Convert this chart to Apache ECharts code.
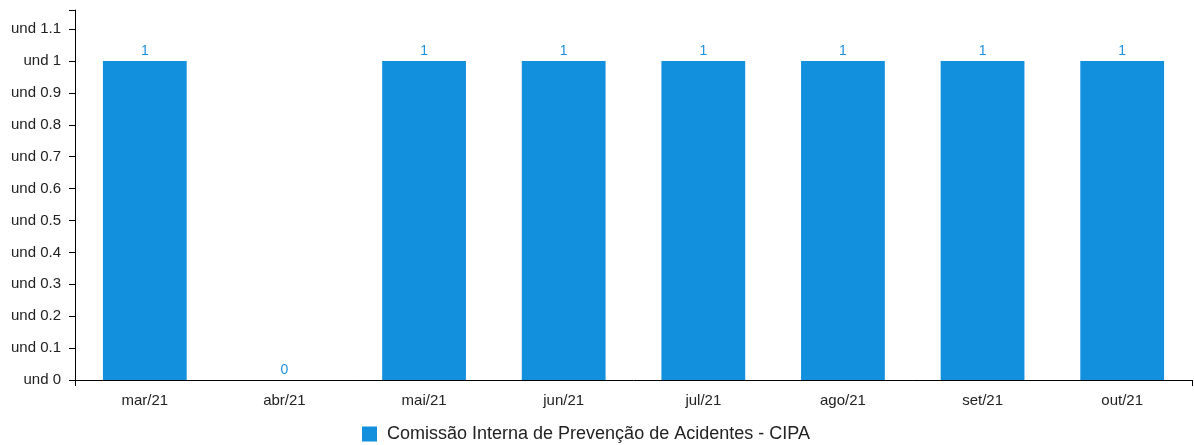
<!DOCTYPE html>
<html>
<head>
<meta charset="utf-8">
<script src="https://cdn.jsdelivr.net/npm/echarts@6/dist/echarts.min.js"></script>
<style>html,body{margin:0;padding:0;background:#fff}#c{width:1194px;height:445px}</style>
</head>
<body>
<div id="c"></div>
<script>
const categories = ['mar/21','abr/21','mai/21','jun/21','jul/21','ago/21','set/21','out/21'];
const values = [1, 0, 1, 1, 1, 1, 1, 1];
const seriesName = 'Comissão Interna de Prevenção de Acidentes - CIPA';
const unitPrefix = 'und ';

const chart = echarts.init(document.getElementById('c'), null, {renderer: 'canvas'});
const font = 'Liberation Sans, Arial, sans-serif';
chart.setOption({
  animation: false,
  grid: {left: 75, right: 2, top: 10, bottom: 65, containLabel: false},
  legend: {
    top: 420, left: 357,
    itemWidth: 15, itemHeight: 15, itemGap: 10,
    icon: 'rect',
    textStyle: {fontFamily: font, fontSize: 18, color: '#222', padding: [0, 0, 0, 5]},
    data: [seriesName]
  },
  xAxis: [{
    type: 'category', data: categories, boundaryGap: true,
    axisLine: {lineStyle: {color: '#000', width: 1}},
    axisTick: {alignWithLabel: true, length: 6, lineStyle: {color: '#000'}},
    axisLabel: {fontFamily: font, fontSize: 15, color: '#222', margin: 13}
  }, {
    type: 'value', min: 0, max: 1, interval: 1, position: 'bottom',
    axisLine: {show: false},
    axisTick: {show: true, length: 6, lineStyle: {color: '#000'}},
    axisLabel: {show: false}, splitLine: {show: false}
  }],
  yAxis: {
    type: 'value', min: 0, max: 1.16, interval: 0.1,
    axisLine: {show: true, lineStyle: {color: '#000', width: 1}},
    axisTick: {show: true, length: 6, lineStyle: {color: '#000'}},
    splitLine: {show: false},
    axisLabel: {
      fontFamily: font, fontSize: 15, color: '#222', margin: 14,
      formatter: v => v > 1.101 ? '' : unitPrefix + (Math.round(v * 10) / 10)
    }
  },
  series: [{
    name: seriesName, type: 'bar', data: values, barWidth: '60%',
    xAxisIndex: 0,
    itemStyle: {color: '#1290de'},
    label: {show: true, position: 'top', distance: 3, color: '#1e90e0', fontFamily: font, fontSize: 14}
  }]
});
</script>
</body>
</html>
